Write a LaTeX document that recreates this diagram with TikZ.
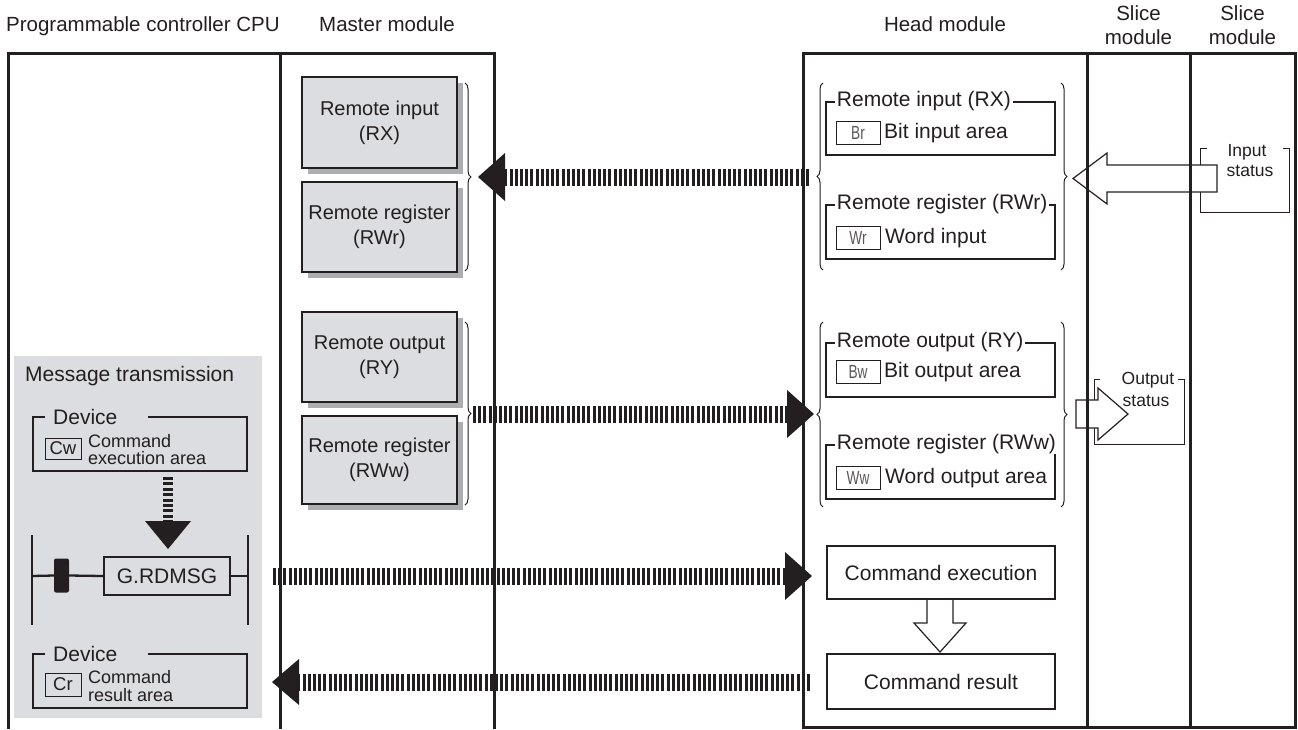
\documentclass[tikz,border=0pt]{standalone}
\usepackage{fontspec}
\setmainfont{Liberation Sans}
\newfontfamily\narrowfont[FakeStretch=0.72]{Liberation Sans}
\usetikzlibrary{decorations.pathreplacing,calc,shadows}
\definecolor{ink}{HTML}{231F20}
\definecolor{panel}{HTML}{DCDDE0}
\definecolor{shade}{HTML}{ABADB0}
\tikzset{
  frame/.style={draw=ink, line width=3pt},
  fhead/.style={font=\fontsize{20.5}{24}\selectfont, text=ink, inner sep=0pt},
  mbox/.style={draw=ink, fill=panel, line width=2.5pt, minimum width=155pt, align=center,
    font=\fontsize{20}{25}\selectfont, text=ink, inner sep=0pt,
    drop shadow={shadow xshift=6pt, shadow yshift=-6pt, fill=shade, opacity=1}},
  hbox/.style={draw=ink, line width=2.5pt, minimum width=229pt, inner sep=0pt},
  hlabel/.style={anchor=west, fill=white, inner xsep=2pt, inner ysep=0pt,
    font=\fontsize{21}{21}\selectfont, text=ink},
  htext/.style={anchor=west, inner sep=2pt, font=\fontsize{21}{21}\selectfont, text=ink},
  tag/.style={draw=ink, line width=1pt, minimum width=44pt, minimum height=23pt, inner sep=0pt,
    font=\narrowfont\fontsize{19}{19}\selectfont, text=ink!75},
  ctag/.style={draw=ink, line width=1pt, minimum width=36pt, inner sep=0pt,
    font=\fontsize{18.5}{18.5}\selectfont, text=ink},
  small/.style={anchor=base west, inner sep=0pt, font=\fontsize{18}{18}\selectfont, text=ink},
  cbox/.style={draw=ink, line width=2.3pt, minimum width=228pt, inner sep=0pt,
    font=\fontsize{21}{21}\selectfont, text=ink},
  thinline/.style={draw=ink, line width=1pt},
  brc/.style={draw=ink, line width=1pt, decorate, decoration={brace, amplitude=6pt}},
  dshaft/.style={draw=ink, line width=17pt, dash pattern=on 3pt off 2.2pt},
  dshaftsm/.style={draw=ink, line width=10pt, dash pattern=on 3pt off 2.4pt},
  hollow/.style={draw=ink, fill=white, line width=1.2pt, line join=miter},
  stat/.style={anchor=base, inner sep=0pt, font=\fontsize{17.5}{17.5}\selectfont, text=ink},
}
\begin{document}
\begin{tikzpicture}[x=1pt,y=-1pt]
\useasboundingbox (0,0) rectangle (1298,729);

% headings
\node[fhead, anchor=base west] (hcpu) at (6,31) {Programmable controller CPU};
\node[fhead, anchor=base] (hmas) at (387,31) {Master module};
\node[fhead, anchor=base] (hhead) at (945,31) {Head module};
\node[fhead, anchor=base] (hs1a) at (1138.5,20) {Slice};
\node[fhead, anchor=base] (hs1b) at (1138.5,44) {module};
\node[fhead, anchor=base] (hs2a) at (1242.5,20) {Slice};
\node[fhead, anchor=base] (hs2b) at (1242.5,44) {module};

% CPU grey panel
\fill[panel] (14,356) rectangle (262,718);

% left frame
\draw[frame] (8,729) -- (8,53) -- (494,53) -- (494,729);
\draw[frame] (280,53) -- (280,729);

% head and slice modules
\draw[frame] (803,53) rectangle (1087,727);
\draw[frame] (1087,53) rectangle (1190,727);
\draw[frame] (1190,53) rectangle (1295,727);

% master boxes
\node[mbox, minimum height=91pt] (mrx) at (379.5,122.5) {Remote input\\(RX)};
\node[mbox, minimum height=90pt] (mrwr) at (379.5,227) {Remote register\\(RWr)};
\node[mbox, minimum height=90pt] (mry) at (379.5,357) {Remote output\\(RY)};
\node[mbox, minimum height=88pt] (mrww) at (379.5,460) {Remote register\\(RWw)};
\draw[brc] (465,83) -- (465,271);
\draw[brc] (465,322) -- (465,505);

% head module boxes
\draw[brc] (823,270) -- (823,83);
\draw[brc] (1061,83) -- (1061,270);
\draw[brc] (823,507) -- (823,322);
\draw[brc] (1061,322) -- (1061,507);

\node[hbox, minimum height=53pt] (hrx) at (940.5,128.5) {};
\node[hlabel] at ($(hrx.north west)+(10,0)$) {Remote input (RX)};
\node[tag] (br) at (858,133) {Br};
\node[htext] at (882,133) {Bit input area};

\node[hbox, minimum height=54pt] (hrwr) at (940.5,232) {};
\node[hlabel] at ($(hrwr.north west)+(10,0)$) {Remote register (RWr)};
\node[tag] (wr) at (858,238) {Wr};
\node[htext] at (883,238) {Word input};

\node[hbox, minimum height=54pt] (hry) at (940.5,370) {};
\node[hlabel] at ($(hry.north west)+(10,0)$) {Remote output (RY)};
\node[tag] (bw) at (858,372) {Bw};
\node[htext] at (882,372) {Bit output area};

\node[hbox, minimum height=54pt] (hrww) at (940.5,472) {};
\node[hlabel] at ($(hrww.north west)+(10,0)$) {Remote register (RWw)};
\node[tag] (ww) at (858,478) {Ww};
\node[htext] at (883,478) {Word output area};

% command boxes
\draw[hollow] (927,599) -- (927,623) -- (914,623) -- (940,652) -- (966,623) -- (953,623) -- (953,599);
\node[cbox, minimum height=53pt] (cexe) at (941,572.5) {Command execution};
\node[cbox, minimum height=55pt] (cres) at (941,681.5) {Command result};

% slice: input status
\draw[thinline] (1207,148) -- (1200,148) -- (1200,212) -- (1289,212) -- (1289,148) -- (1283,148);
\node[stat] (inp1) at (1247,156) {Input};
\node[stat] (inp2) at (1250,176) {status};
\draw[hollow] (1217,165) -- (1107,165) -- (1107,153) -- (1073,178.5) -- (1107,204) -- (1107,192) -- (1217,192) -- cycle;

% slice: output status
\draw[thinline] (1100,379) -- (1094,379) -- (1094,444) -- (1184,444) -- (1184,379) -- (1178,379);
\node[stat] (out1) at (1148,384) {Output};
\node[stat] (out2) at (1146,406) {status};
\draw[hollow] (1076,400) -- (1098,400) -- (1098,388) -- (1128,414) -- (1098,440) -- (1098,428) -- (1076,428) -- cycle;

% redraw module dividers over the hollow arrows
\draw[frame] (1087,53) -- (1087,727);
\draw[frame] (1190,53) -- (1190,727);

% CPU contents
\node[anchor=base west, inner sep=0pt, font=\fontsize{21}{21}\selectfont, text=ink] (msg) at (25,381) {Message transmission};

\node[minimum width=214pt, minimum height=54pt, inner sep=0pt] (dev1) at (140,444) {};
\draw[draw=ink, line width=2.3pt] ($(dev1.north west)+(12,0)$) -| (dev1.south west) -- (dev1.south east) -- (dev1.north east) -- ($(dev1.north east)+(-99,0)$);
\node[anchor=base west, inner sep=0pt, font=\fontsize{21}{21}\selectfont, text=ink] (dl1) at (53,424) {Device};
\node[ctag, minimum height=21pt] (cw) at (63,448.5) {Cw};
\node[small] (c1a) at (88,447) {Command};
\node[small] (c1b) at (88,464) {execution area};

\coordinate (sa1) at (168,477);
\coordinate (sa2) at (168,549);
\draw[dshaftsm] (sa1) -- ($(sa2)+(0,-27)$);
\fill[ink] (sa2) -- ($(sa2)+(-23,-28)$) -- ($(sa2)+(23,-28)$) -- cycle;

\draw[draw=ink, line width=2.5pt] (32,535) -- (32,625);
\draw[draw=ink, line width=2.5pt] (248,535) -- (248,625);
\node[fill=ink, minimum width=15pt, minimum height=34pt, inner sep=0pt, rounded corners=2pt] (contact) at (61.5,575.5) {};
\node[cbox, minimum width=126pt, minimum height=38pt] (grd) at (167,576) {G.RDMSG};
\draw[draw=ink, line width=2.3pt] (32,576) -- (contact.west);
\draw[draw=ink, line width=2.3pt] (contact.east) -- (grd.west);
\draw[draw=ink, line width=2.3pt] (grd.east) -- (248,576);

\node[minimum width=214pt, minimum height=54pt, inner sep=0pt] (dev2) at (140,681) {};
\draw[draw=ink, line width=2.3pt] ($(dev2.north west)+(12,0)$) -| (dev2.south west) -- (dev2.south east) -- (dev2.north east) -- ($(dev2.north east)+(-99,0)$);
\node[anchor=base west, inner sep=0pt, font=\fontsize{21}{21}\selectfont, text=ink] (dl2) at (53,661) {Device};
\node[ctag, minimum height=23pt] (cr) at (63,684.5) {Cr};
\node[small] (c2a) at (88,683) {Command};
\node[small] (c2b) at (88,701) {result area};

% big dashed arrows
\coordinate (a1s) at (809,177);
\coordinate (a1t) at (478,177);
\draw[dshaft] (a1s) -- ($(a1t)+(26,0)$);
\fill[ink] (a1t) -- ($(a1t)+(27,-24)$) -- ($(a1t)+(27,24)$) -- cycle;

\coordinate (a2s) at (473,414);
\coordinate (a2t) at (814,414);
\draw[dshaft] (a2s) -- ($(a2t)+(-26,0)$);
\fill[ink] (a2t) -- ($(a2t)+(-27,-24)$) -- ($(a2t)+(-27,24)$) -- cycle;

\coordinate (a3s) at (273,576);
\coordinate (a3t) at (812,576);
\draw[dshaft] (a3s) -- ($(a3t)+(-26,0)$);
\fill[ink] (a3t) -- ($(a3t)+(-27,-24)$) -- ($(a3t)+(-27,24)$) -- cycle;

\coordinate (a4s) at (810,682);
\coordinate (a4t) at (272,682);
\draw[dshaft] (a4s) -- ($(a4t)+(26,0)$);
\fill[ink] (a4t) -- ($(a4t)+(27,-23)$) -- ($(a4t)+(27,23)$) -- cycle;
\end{tikzpicture}
\end{document}
